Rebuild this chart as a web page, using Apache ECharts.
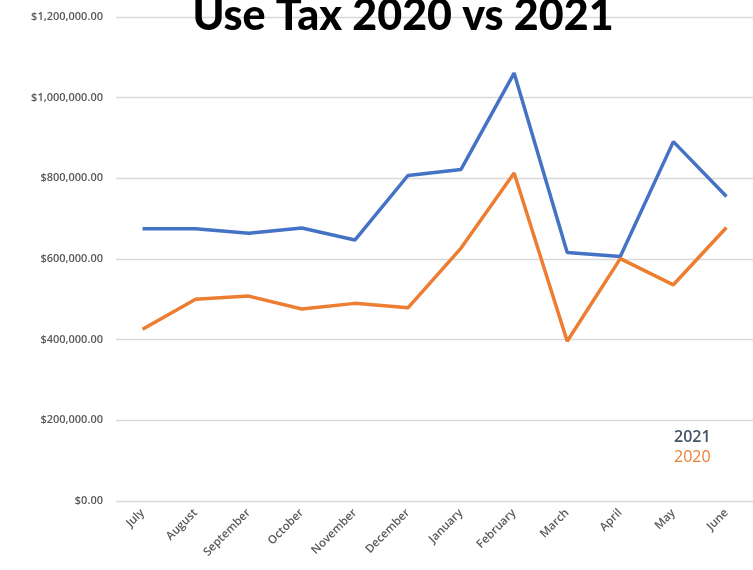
<!DOCTYPE html>
<html><head><meta charset="utf-8">
<script src="https://cdn.jsdelivr.net/npm/echarts@6/dist/echarts.min.js"></script>
<style>html,body{margin:0;padding:0;background:#fff}#c{width:753px;height:570px}</style>
</head><body><div id="c"></div>
<script>
const months = ['July','August','September','October','November','December','January','February','March','April','May','June'];
const tax2021 = [675000, 675000, 664000, 677000, 647000, 807000, 822000, 1061000, 616000, 606000, 891000, 755000];
const tax2020 = [426000, 500000, 508000, 476000, 490000, 479000, 627000, 813000, 396000, 601000, 536000, 678000];
const yTicks = [0, 200000, 400000, 600000, 800000, 1000000, 1200000];

function fmt(v){ return '$' + v.toLocaleString('en-US') + '.00'; }

const chart = echarts.init(document.getElementById('c'));
chart.setOption({
  animation: false,
  backgroundColor: '#fff',
  title: {
    text: 'Use Tax 2020 vs 2021',
    left: 398, top: -10, textAlign: 'center',
    textStyle: { fontFamily: 'Lato', fontWeight: 900, fontSize: 43, color: '#000' }
  },
  legend: {
    orient: 'vertical', left: 664, top: 424, itemGap: 4,
    icon: 'none', itemWidth: 0, itemHeight: 0,
    data: [
      { name: '2021', textStyle: { color: '#44546A' } },
      { name: '2020', textStyle: { color: '#ED7D31', fontWeight: 'normal' } }
    ],
    textStyle: { fontFamily: 'Open Sans', fontSize: 16, fontWeight: 600, padding: 0 }
  },
  grid: { left: 116, top: 17, width: 645, height: 484, containLabel: false },
  xAxis: {
    type: 'category', data: months, boundaryGap: true,
    axisLine: { show: true, lineStyle: { color: '#d9d9d9' } },
    axisTick: { show: false },
    axisLabel: { rotate: 45, color: '#595959', fontFamily: 'Open Sans', fontSize: 11.5, fontWeight: 600, margin: 10 }
  },
  yAxis: {
    type: 'value', min: yTicks[0], max: yTicks[yTicks.length-1], interval: 200000,
    axisLine: { show: false }, axisTick: { show: false },
    splitLine: { lineStyle: { color: '#d9d9d9', width: 1.3 } },
    axisLabel: { formatter: fmt, color: '#595959', fontFamily: 'Open Sans', fontSize: 11, fontWeight: 600, margin: 13 }
  },
  series: [
    { name: '2021', type: 'line', data: tax2021, symbol: 'none', lineStyle: { color: '#4472C4', width: 3.5 }, itemStyle: { color: '#4472C4' } },
    { name: '2020', type: 'line', data: tax2020, symbol: 'none', lineStyle: { color: '#ED7D31', width: 3.5 }, itemStyle: { color: '#ED7D31' } }
  ]
});
</script></body></html>
